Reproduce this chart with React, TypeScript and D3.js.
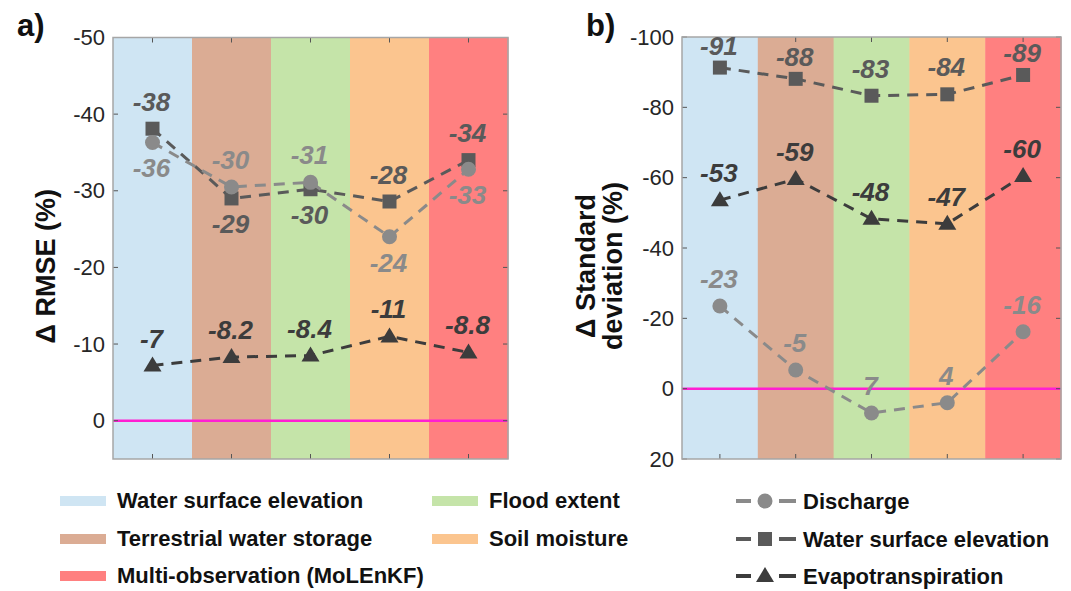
import React from 'react'
import * as d3 from 'd3'

// categories (assimilated observation) and their band colours
const categories = ['Water surface elevation', 'Terrestrial water storage', 'Flood extent', 'Soil moisture', 'Multi-observation (MoLEnKF)']
const bandColors = ['#cfe5f3', '#dbac94', '#c5e4a9', '#fbc58f', '#ff8080']

// a) change in RMSE (%)
const rmseDischarge = [-36.3, -30.5, -31.1, -24.0, -32.8]
const rmseDischargeLabels = ['-36', '-30', '-31', '-24', '-33']
const rmseWse = [-38.1, -29.0, -30.2, -28.6, -34.0]
const rmseWseLabels = ['-38', '-29', '-30', '-28', '-34']
const rmseEt = [-7.2, -8.3, -8.5, -11.0, -8.9]
const rmseEtLabels = ['-7', '-8.2', '-8.4', '-11', '-8.8']
const rmseTicks = [-50, -40, -30, -20, -10, 0]

// b) change in standard deviation (%)
const sdDischarge = [-23.5, -5.3, 6.9, 4.0, -16.2]
const sdDischargeLabels = ['-23', '-5', '7', '4', '-16']
const sdWse = [-91.3, -88.1, -83.3, -83.7, -89.2]
const sdWseLabels = ['-91', '-88', '-83', '-84', '-89']
const sdEt = [-53.6, -59.6, -48.3, -46.9, -60.5]
const sdEtLabels = ['-53', '-59', '-48', '-47', '-60']
const sdTicks = [-100, -80, -60, -40, -20, 0, 20]

// label side (above / below / near = tight above the marker)
const rmseDischargeSide = ['below', 'above', 'above', 'below', 'below']
const rmseWseSide = ['above', 'below', 'below', 'above', 'above']
const sdWseSide = ['near', 'near', 'above', 'above', 'near']

const seriesStyle = {
  discharge: { color: '#8a8a8a', name: 'Discharge', marker: 'circle' },
  wse: { color: '#5a5a5a', name: 'Water surface elevation', marker: 'square' },
  et: { color: '#3c3c3c', name: 'Evapotranspiration', marker: 'triangle' },
}

const FONT = '"Liberation Sans", Arial, Helvetica, sans-serif'

function Marker({ kind, x, y, color }: { kind: string; x: number; y: number; color: string }) {
  if (kind === 'circle') return <circle cx={x} cy={y} r={7.5} fill={color} />
  if (kind === 'square') return <rect x={x - 7} y={y - 7} width={14} height={14} fill={color} />
  return <path d={`M${x},${y - 9} L${x + 9},${y + 6} L${x - 9},${y + 6} Z`} fill={color} />
}

interface Series {
  key: keyof typeof seriesStyle
  values: number[]
  labels: string[]
  side?: string[]
}

const sideOffset: Record<string, number> = { above: -18, below: 35, near: -13 }

function Panel({ left, right, top, bottom, domain, ticks, series, letter, title, titleX }: {
  left: number; right: number; top: number; bottom: number
  domain: [number, number]; ticks: number[]; series: Series[]
  letter: string; title: string[]; titleX: number
}) {
  const x = d3.scaleBand<string>().domain(categories).range([left, right])
  const y = d3.scaleLinear().domain(domain).range([top, bottom])
  const cx = (c: string) => (x(c) as number) + x.bandwidth() / 2
  const line = d3.line<number>().x((_, i) => cx(categories[i])).y(d => y(d))
  const titleY = (top + bottom) / 2 + 18

  return (
    <g>
      <text x={left - 96} y={36} fontFamily={FONT} fontSize={31} fontWeight="bold" fill="#111">{letter}</text>
      {categories.map((c, i) => (
        <rect key={c} x={x(c)} y={top} width={x.bandwidth() + 0.5} height={bottom - top} fill={bandColors[i]} />
      ))}
      <line x1={left} x2={right} y1={y(0)} y2={y(0)} stroke="#ff1fd2" strokeWidth={2.5} />
      {/* ticks */}
      {ticks.map(t => (
        <g key={t}>
          <line x1={left} x2={left + 5} y1={y(t)} y2={y(t)} stroke="#555" strokeWidth={1} />
          <line x1={right} x2={right - 5} y1={y(t)} y2={y(t)} stroke="#555" strokeWidth={1} />
          <text x={left - 8} y={y(t)} dy="0.35em" textAnchor="end" fontFamily={FONT} fontSize={22} fill="#262626">{t}</text>
        </g>
      ))}
      {categories.map(c => (
        <g key={c}>
          <line x1={cx(c)} x2={cx(c)} y1={bottom} y2={bottom - 5} stroke="#555" strokeWidth={1} />
          <line x1={cx(c)} x2={cx(c)} y1={top} y2={top + 5} stroke="#555" strokeWidth={1} />
        </g>
      ))}
      <rect x={left} y={top} width={right - left} height={bottom - top} fill="none" stroke="#a6a6a6" strokeWidth={1.5} />
      {series.map(s => (
        <g key={s.key}>
          <path d={line(s.values) as string} fill="none" stroke={seriesStyle[s.key].color} strokeWidth={3} strokeDasharray="11,8" />
          {s.values.map((v, i) => (
            <Marker key={i} kind={seriesStyle[s.key].marker} x={cx(categories[i])} y={y(v)} color={seriesStyle[s.key].color} />
          ))}
        </g>
      ))}
      {series.map(s => s.values.map((v, i) => {
        const side = s.side ? s.side[i] : 'above'
        return (
          <text key={s.key + i} x={cx(categories[i]) - 1} y={y(v) + sideOffset[side]} textAnchor="middle"
            fontFamily={FONT} fontSize={26} fontWeight="bold" fontStyle="italic" fill={seriesStyle[s.key].color}>
            {s.labels[i]}
          </text>
        )
      }))}
      <text transform={`translate(${titleX},${titleY}) rotate(-90)`} textAnchor="middle"
        fontFamily={FONT} fontSize={27} fontWeight="bold" fill="#111">
        {title.map((t, i) => (
          <tspan key={t} x={0} dy={i === 0 ? 0 : 27}>{t}</tspan>
        ))}
      </text>
    </g>
  )
}

export default function App() {
  const leftLegend = [
    { c: 0, col: 0, row: 0 }, { c: 1, col: 0, row: 1 }, { c: 4, col: 0, row: 2 },
    { c: 2, col: 1, row: 0 }, { c: 3, col: 1, row: 1 },
  ]
  const rowY = [500, 538, 575]
  return (
    <svg width={1071} height={591} style={{ position: 'absolute', left: 0, top: 0, background: '#fff' }}>
      <Panel left={113} right={508} top={37.5} bottom={459} domain={[-50, 5]} ticks={rmseTicks} letter="a)"
        title={['Δ RMSE (%)']} titleX={55}
        series={[
          { key: 'wse', values: rmseWse, labels: rmseWseLabels, side: rmseWseSide },
          { key: 'discharge', values: rmseDischarge, labels: rmseDischargeLabels, side: rmseDischargeSide },
          { key: 'et', values: rmseEt, labels: rmseEtLabels },
        ]} />
      <Panel left={682} right={1061} top={37} bottom={459} domain={[-100, 20]} ticks={sdTicks} letter="b)"
        title={['Δ Standard', 'deviation (%)']} titleX={595}
        series={[
          { key: 'wse', values: sdWse, labels: sdWseLabels, side: sdWseSide },
          { key: 'discharge', values: sdDischarge, labels: sdDischargeLabels },
          { key: 'et', values: sdEt, labels: sdEtLabels },
        ]} />
      {/* legend: observation bands */}
      {leftLegend.map(({ c, col, row }) => (
        <g key={c} transform={`translate(${col === 0 ? 60 : 432},${rowY[row]})`}>
          <rect x={0} y={-4} width={46} height={10} fill={bandColors[c]} />
          <text x={57} y={0} dy="0.35em" fontFamily={FONT} fontSize={22} fontWeight="bold" fill="#111">{categories[c]}</text>
        </g>
      ))}
      {/* legend: series */}
      {(['discharge', 'wse', 'et'] as const).map((k, i) => (
        <g key={k} transform={`translate(736,${rowY[i] + 1})`}>
          <line x1={0} x2={15} y1={0} y2={0} stroke={seriesStyle[k].color} strokeWidth={4} />
          <line x1={43} x2={60} y1={0} y2={0} stroke={seriesStyle[k].color} strokeWidth={4} />
          <Marker kind={seriesStyle[k].marker} x={29} y={0} color={seriesStyle[k].color} />
          <text x={67} y={0} dy="0.35em" fontFamily={FONT} fontSize={22} fontWeight="bold" fill="#111">{seriesStyle[k].name}</text>
        </g>
      ))}
    </svg>
  )
}
